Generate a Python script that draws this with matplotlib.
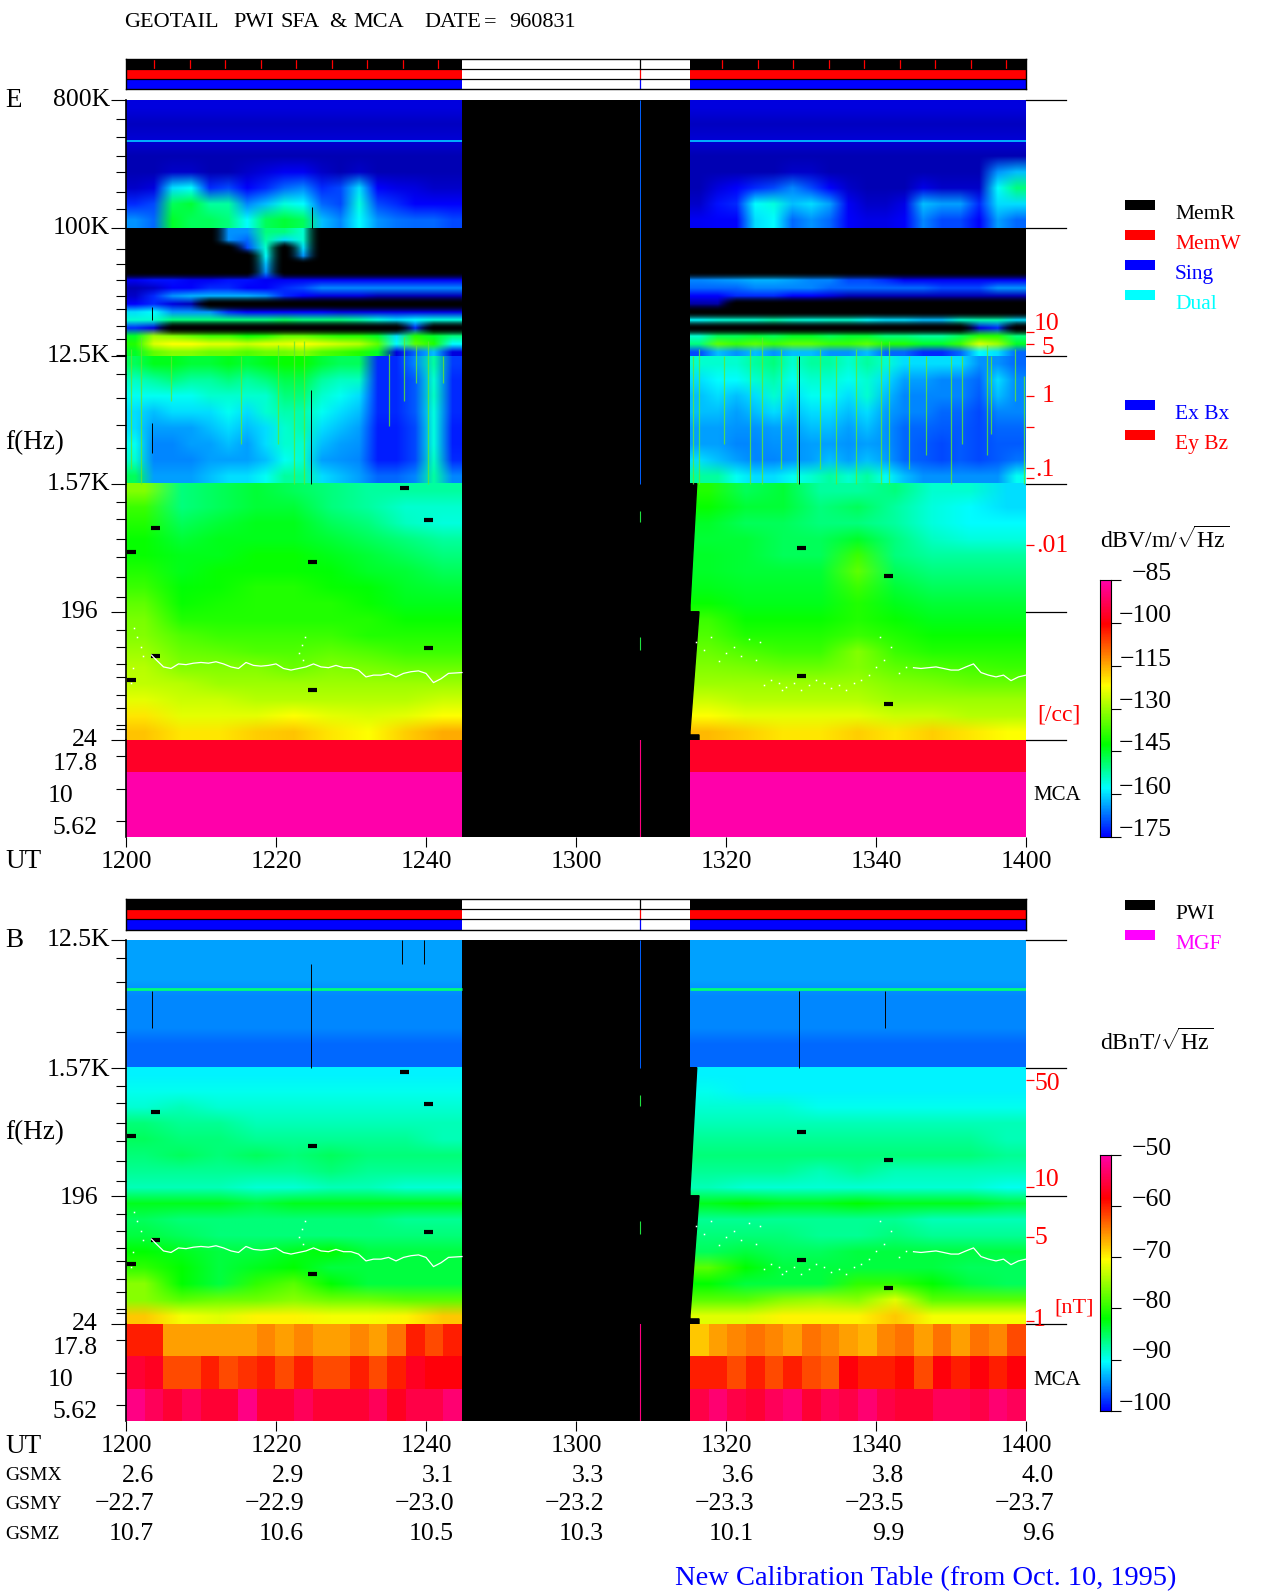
import numpy as np
import matplotlib
matplotlib.use('Agg')
import matplotlib.pyplot as plt
from matplotlib.colors import LinearSegmentedColormap, Normalize
from matplotlib.patches import Rectangle

plt.rcParams['font.family'] = ['Liberation Serif', 'DejaVu Serif']
plt.rcParams['mathtext.fontset'] = 'custom'
plt.rcParams['mathtext.rm'] = 'Liberation Serif'

W, H = 1280, 1593
FS = 19.5

# Band edges in Hz, time in minutes after 1200 UT
band_edges = [800000, 100000, 12500, 1570, 196, 24.4]
left_block = (0, 44.8)
right_block = (75.2, 120)
gap_line_t = 68.5

time_ticks = [0, 20, 40, 60, 80, 100, 120]
time_labels = ['1200', '1220', '1240', '1300', '1320', '1340', '1400']
gsmx = ['2.6', '2.9', '3.1', '3.3', '3.6', '3.8', '4.0']
gsmy = ['-22.7', '-22.9', '-23.0', '-23.2', '-23.3', '-23.5', '-23.7']
gsmz = ['10.7', '10.6', '10.5', '10.3', '10.1', '9.9', '9.6']

# 36 columns (2.5 min): 18 before the gap, 18 after
e_band1 = [
    [178] * 36,
    [181] * 36,
    [179] * 36,
    [182] * 36,
    [182, 182, 180, 180, 182, 182, 180, 178, 176, 176, 180, 182, 180, 182, 182, 182, 182, 182, 182, 182, 182, 182, 182, 180, 180, 182, 182, 182, 182, 182, 182, 182, 182, 182, 165, 162],
    [180, 178, 160, 158, 172, 170, 175, 172, 168, 166, 172, 170, 160, 175, 177, 178, 180, 180, 182, 178, 175, 172, 170, 166, 170, 175, 180, 182, 182, 182, 177, 180, 180, 180, 158, 150],
    [172, 170, 148, 146, 152, 152, 166, 162, 156, 158, 168, 170, 156, 170, 172, 175, 175, 175, 180, 174, 172, 158, 156, 162, 160, 164, 176, 180, 180, 177, 162, 164, 164, 172, 160, 160],
    [165, 168, 145, 148, 148, 150, 158, 148, 146, 148, 162, 166, 158, 165, 167, 168, 168, 170, 176, 175, 175, 160, 158, 168, 165, 168, 175, 177, 177, 175, 166, 170, 170, 175, 164, 168],
]
e_band2 = [
    [0, 0, 0, 0, 0, 165, 165, 150, 150, 155, 0, 0, 0, 0, 0, 0, 0, 0] + [0] * 18,
    [0, 0, 0, 0, 0, 165, 168, 152, 160, 155, 0, 0, 0, 0, 0, 0, 0, 0] + [0] * 18,
    [0, 0, 0, 0, 0, 0, 170, 155, 0, 160, 0, 0, 0, 0, 0, 0, 0, 0] + [0] * 18,
    [0, 0, 0, 0, 0, 0, 0, 158, 0, 165, 0, 0, 0, 0, 0, 0, 0, 0] + [0] * 18,
    [0, 0, 0, 0, 0, 0, 0, 162, 0, 0, 0, 0, 0, 0, 0, 0, 0, 0] + [0] * 18,
    [0, 0, 0, 0, 0, 0, 0, 165, 0, 0, 0, 0, 0, 0, 0, 0, 0, 0] + [0] * 18,
    [176, 174, 174, 176, 176, 174, 174, 176, 176, 176, 176, 176, 176, 176, 176, 176, 176, 176, 166, 165, 164, 163, 163, 164, 166, 166, 170, 170, 172, 176, 176, 176, 176, 176, 176, 176],
    [182, 180, 175, 175, 172, 172, 175, 175, 172, 170, 166, 166, 166, 166, 166, 166, 166, 166, 168, 168, 168, 166, 166, 166, 166, 168, 168, 168, 168, 168, 168, 170, 170, 170, 165, 165],
    [180, 172, 165, 163, 163, 163, 163, 165, 172, 175, 178, 178, 178, 182, 182, 182, 182, 182, 175, 175, 172, 172, 172, 175, 175, 178, 182, 182, 182, 182, 182, 182, 182, 182, 182, 182],
    [175, 172, 178, 182, 0, 0, 0, 0, 0, 0, 0, 0, 0, 0, 0, 0, 0, 0, 184, 184, 0, 0, 0, 0, 0, 0, 0, 0, 0, 0, 0, 0, 0, 0, 0, 0],
    [160, 158, 165, 165, 165, 172, 175, 175, 175, 175, 175, 178, 178, 178, 178, 178, 178, 178, 0, 0, 0, 0, 0, 0, 0, 0, 0, 0, 0, 0, 0, 0, 0, 0, 0, 0],
    [155, 155, 150, 150, 150, 150, 150, 150, 148, 150, 150, 150, 152, 156, 160, 158, 156, 156, 158, 156, 155, 155, 153, 155, 156, 155, 155, 158, 160, 160, 162, 162, 155, 153, 153, 160],
    [172, 178, 0, 0, 0, 0, 0, 0, 0, 0, 0, 0, 0, 0, 0, 172, 0, 0, 0, 0, 0, 0, 0, 0, 0, 0, 0, 0, 0, 0, 0, 0, 0, 178, 172, 0],
    [145, 130, 132, 135, 138, 138, 142, 140, 135, 135, 138, 140, 140, 145, 160, 140, 145, 150, 155, 148, 148, 146, 148, 145, 145, 148, 146, 146, 150, 150, 152, 152, 148, 140, 140, 150],
    [140, 125, 122, 122, 124, 124, 126, 124, 124, 122, 124, 126, 128, 135, 158, 135, 140, 158, 150, 135, 138, 135, 138, 135, 135, 138, 138, 135, 140, 140, 145, 145, 138, 125, 130, 145],
    [145, 135, 132, 132, 134, 134, 136, 134, 134, 132, 136, 138, 140, 145, 178, 168, 162, 178, 170, 162, 165, 162, 165, 162, 162, 165, 165, 162, 168, 168, 172, 172, 168, 158, 160, 168],
]
e_band3 = [
    [148, 144, 144, 146, 146, 144, 146, 144, 142, 142, 146, 148, 148, 172, 172, 166, 152, 171, 155, 155, 155, 152, 150, 155, 152, 152, 155, 152, 155, 160, 160, 160, 160, 165, 165, 168],
    [154, 152, 150, 152, 152, 150, 152, 150, 147, 147, 152, 154, 154, 172, 172, 169, 155, 172, 160, 158, 158, 155, 153, 157, 155, 155, 157, 155, 160, 164, 164, 166, 166, 168, 160, 166],
    [157, 157, 157, 157, 155, 155, 155, 155, 150, 150, 155, 157, 160, 172, 172, 169, 154, 172, 162, 160, 162, 160, 155, 160, 157, 157, 160, 155, 162, 166, 166, 166, 166, 169, 162, 166],
    [160, 162, 160, 160, 160, 157, 160, 155, 153, 153, 157, 160, 162, 172, 172, 169, 156, 172, 162, 162, 164, 162, 160, 162, 160, 160, 162, 160, 164, 166, 166, 168, 168, 170, 166, 166],
    [160, 164, 164, 164, 162, 160, 162, 160, 155, 153, 160, 162, 164, 173, 173, 170, 156, 173, 164, 164, 165, 165, 164, 164, 162, 162, 164, 162, 165, 168, 168, 169, 169, 170, 168, 168],
    [157, 166, 166, 164, 164, 162, 164, 160, 155, 155, 162, 164, 165, 173, 173, 170, 156, 173, 164, 164, 166, 166, 165, 165, 164, 164, 165, 164, 165, 168, 169, 170, 169, 170, 169, 169],
    [155, 166, 166, 166, 164, 164, 164, 162, 157, 155, 164, 165, 166, 173, 173, 170, 154, 172, 160, 162, 164, 166, 166, 165, 164, 162, 164, 162, 164, 168, 169, 170, 169, 170, 169, 167],
    [148, 164, 164, 164, 162, 160, 160, 157, 152, 152, 160, 162, 164, 168, 168, 166, 152, 166, 152, 152, 157, 160, 160, 157, 155, 152, 155, 152, 157, 162, 165, 165, 165, 165, 165, 157],
]
# 1.57K down to 24 Hz, 18 columns (5 min)
e_band45 = [
    [132, 150, 148, 146, 148, 150, 152, 152, 152, 140, 148, 146, 152, 152, 150, 155, 155, 160],
    [138, 150, 148, 146, 146, 150, 152, 155, 155, 142, 146, 146, 150, 148, 152, 156, 158, 160],
    [140, 148, 146, 144, 144, 148, 150, 154, 156, 145, 148, 148, 150, 150, 152, 156, 158, 158],
    [142, 146, 144, 144, 144, 146, 148, 150, 152, 146, 146, 148, 148, 145, 150, 154, 156, 156],
    [142, 144, 144, 142, 142, 144, 146, 148, 150, 145, 146, 148, 148, 138, 150, 152, 152, 152],
    [140, 144, 142, 142, 142, 143, 145, 146, 148, 145, 146, 146, 146, 135, 148, 150, 150, 150],
    [138, 143, 142, 140, 140, 142, 143, 145, 146, 144, 145, 145, 145, 138, 146, 148, 148, 148],
    [135, 142, 141, 140, 140, 140, 142, 144, 144, 142, 144, 144, 144, 140, 144, 146, 146, 146],
    [133, 140, 140, 140, 140, 140, 140, 142, 142, 138, 142, 142, 142, 140, 142, 144, 144, 144],
    [132, 136, 138, 138, 138, 138, 140, 140, 140, 136, 140, 140, 140, 138, 140, 142, 142, 142],
    [130, 134, 135, 136, 136, 135, 136, 138, 138, 134, 136, 138, 138, 132, 138, 140, 140, 140],
    [128, 132, 132, 132, 134, 132, 133, 134, 134, 132, 133, 134, 134, 132, 135, 136, 137, 138],
    [127, 128, 130, 130, 130, 130, 130, 130, 130, 130, 130, 130, 130, 130, 132, 133, 134, 134],
    [124, 126, 126, 128, 128, 128, 128, 128, 126, 126, 128, 128, 128, 128, 130, 130, 130, 130],
    [120, 124, 124, 124, 122, 124, 125, 124, 122, 122, 124, 124, 124, 124, 126, 126, 128, 128],
    [117, 120, 120, 118, 117, 120, 122, 118, 115, 116, 118, 120, 120, 118, 120, 118, 120, 122],
]
e_mca = [[97] * 36, [85] * 36, [85] * 36]

b_band3 = [[94] * 36, [94] * 36, [94] * 36, [95] * 36, [95] * 36, [95] * 36, [96] * 36, [96] * 36]
b_band45 = [
    [91] * 18,
    [90, 90, 90, 90, 90, 90, 90, 90, 90, 90, 91, 91, 91, 91, 91, 91, 91, 91],
    [89, 88, 89, 89, 89, 89, 89, 89, 89, 89, 89, 89, 90, 90, 90, 90, 90, 90],
    [86, 87, 87, 88, 88, 88, 88, 88, 88, 88, 88, 88, 88, 88, 88, 88, 88, 88],
    [85, 86, 86, 87, 87, 87, 87, 87, 88, 87, 87, 87, 87, 87, 87, 87, 87, 88],
    [86, 85, 86, 85, 86, 85, 86, 86, 86, 86, 86, 86, 86, 86, 86, 86, 86, 87],
    [87, 87, 87, 87, 87, 86, 87, 87, 87, 87, 87, 87, 88, 87, 88, 88, 88, 88],
    [88, 88, 88, 89, 89, 88, 88, 89, 89, 88, 89, 89, 89, 89, 89, 89, 89, 90],
    [83, 83, 83, 84, 83, 83, 83, 83, 83, 83, 82, 83, 83, 82, 83, 83, 83, 84],
    [85, 86, 86, 86, 86, 86, 86, 87, 87, 87, 87, 87, 87, 87, 87, 88, 88, 88],
    [84, 85, 86, 86, 86, 86, 86, 86, 86, 86, 86, 86, 87, 87, 86, 87, 87, 87],
    [82, 83, 84, 84, 83, 82, 84, 84, 84, 85, 84, 85, 85, 84, 84, 84, 84, 84],
    [80, 82, 84, 83, 82, 84, 84, 84, 84, 78, 82, 84, 84, 84, 84, 84, 85, 85],
    [76, 82, 84, 80, 78, 82, 84, 84, 84, 82, 84, 84, 84, 80, 80, 82, 84, 85],
    [76, 78, 77, 77, 76, 77, 77, 78, 78, 78, 78, 76, 75, 76, 72, 78, 78, 78],
    [68, 71, 72, 70, 70, 71, 71, 70, 68, 72, 72, 70, 70, 70, 68, 71, 71, 71],
]
b_mca = [
    [60, 60, 66, 66, 66, 66, 66, 65, 66, 65, 66, 66, 65, 66, 64, 60, 62, 60, 68, 66, 65, 64, 65, 66, 64, 65, 66, 67, 65, 64, 66, 64, 66, 64, 65, 62],
    [56, 57, 62, 62, 60, 62, 61, 60, 62, 60, 62, 62, 60, 62, 60, 57, 58, 58, 60, 60, 62, 60, 62, 60, 62, 63, 58, 60, 60, 59, 62, 58, 60, 58, 60, 58],
    [52, 54, 56, 54, 56, 56, 52, 56, 56, 54, 56, 56, 56, 54, 57, 55, 55, 53, 55, 53, 55, 56, 54, 53, 56, 54, 55, 53, 55, 56, 56, 54, 54, 55, 53, 54],
]

# Plasma line (white), same in both panels
fp_left_t = [3.4, 4, 5, 6, 7, 8, 9, 10, 11, 12, 13, 14, 15, 16, 17, 18, 19, 20, 21, 22, 24, 25, 26, 27, 28, 29, 30, 31, 32, 33, 34, 35, 36, 37, 38, 39, 40, 41, 42, 43, 44.8]
fp_left_f = [97, 90, 80, 78, 84, 83, 85, 86, 85, 87, 84, 80, 78, 86, 82, 81, 82, 84, 78, 76, 80, 84, 80, 79, 82, 79, 79, 76, 68, 70, 70, 72, 68, 72, 74, 75, 72, 62, 66, 72, 73]
fp_right_t = [105, 106, 107, 108, 109, 110, 111, 112, 113, 114, 115, 116, 117, 118, 119, 120]
fp_right_f = [79, 78, 79, 80, 78, 76, 76, 80, 84, 73, 70, 68, 70, 64, 68, 70]
fp_dots_t = [1, 1.5, 2, 2.2, 0.6, 0.9, 23, 23.5, 23.6, 23.8, 76, 77, 78, 79, 80, 81, 82, 83, 84, 84.5, 85, 86, 87, 87.5, 88, 89, 90, 91, 92, 93, 94, 95, 96, 97, 98, 99, 100, 100.5, 101, 102, 103, 104]
fp_dots_f = [150, 130, 110, 95, 62, 78, 100, 115, 90, 130, 120, 105, 130, 88, 100, 110, 95, 125, 90, 120, 60, 65, 62, 55, 58, 62, 55, 60, 65, 62, 57, 60, 55, 62, 65, 70, 80, 130, 90, 110, 72, 80]

# No-data cells
drop_t = [37.1, 40.3, 3.9, 0.7, 24.9, 40.3, 3.9, 0.7, 24.9, 90.1, 101.7, 90.1, 101.7]
drop_f = [1463, 871, 764, 517, 440, 109, 95, 64.7, 55, 552, 350, 69, 43.8]

# Edge of the data gap below 1.57K
gap_edge_t = [75, 76.1, 75.2, 75.2, 76.4, 75.2, 75.2, 76.4, 76.4, 75]
gap_edge_f = [1570, 1570, 218, 196, 196, 28, 26.5, 26.5, 24.4, 24.4]

# Bursts in the E panel 12.5K-1.57K band
burst_t = [0.6, 2, 6, 15.3, 20.2, 22.4, 23.7, 35, 37.1, 38.7, 40.3, 42.3,
           75.6, 76.4, 79.7, 83.2, 84.8, 87.3, 89.5, 92.5, 94.7, 97.3, 100.7, 101.7, 104.4, 106.7, 110, 111.5, 114.8, 115.3, 118.5, 119.7]
burst_top = [14000, 17000, 12500, 12500, 15000, 16000, 16000, 13000, 17000, 15000, 16000, 12500,
             12500, 14000, 12500, 14000, 17000, 14000, 12500, 14000, 12500, 14000, 16000, 16000, 12500, 12500, 12500, 12500, 15000, 12500, 14000, 9000]
burst_bot = [2000, 1570, 6000, 3000, 3000, 1570, 1570, 4000, 6000, 8000, 1570, 8000,
             1570, 1570, 3000, 1570, 1570, 2000, 1570, 2000, 1570, 1570, 1570, 1570, 2000, 2500, 1570, 3000, 2500, 3500, 6000, 1570]

# Thin black no-data lines
e_black_t = [24.6, 24.8, 3.5, 3.5, 89.7]
e_black_top = [7170, 140000, 27600, 4200, 12500]
e_black_bot = [1570, 100000, 22400, 2570, 1570]
b_black_t = [36.8, 39.7, 3.5, 24.6, 89.7, 101.2]
b_black_top = [12500, 12500, 5500, 8500, 5500, 5500]
b_black_bot = [8400, 8400, 3000, 1570, 1570, 3000]

# Lone spectrum inside the gap, below 1.57K
gap_dash_top = [1000, 130]
gap_dash_bot = [840, 105]

# Status bar marks
status_ticks = [3.7, 8.5, 13.2, 18, 22.7, 27.5, 32.1, 36.9, 41.6, 79.5, 84.3, 88.9, 93.7, 98.4, 103.2, 107.9, 112.6, 117.3]

# Frequency ticks, Hz
major_f = [800000, 100000, 12500, 1570, 196, 24.4]
minor_f = [588000, 438000, 322000, 248000, 179000, 136000,
           71000, 56000, 42800, 33000, 27000, 20300, 16400, 12800,
           9400, 6300, 4100, 2800,
           1170, 880, 640, 475, 345, 250,
           145, 111, 84, 68, 51, 41, 31, 29]

e_levels = [-85, -100, -115, -130, -145, -160, -175]
b_levels = [-50, -60, -70, -80, -90, -100]


def make_cmap(lo, hi, floor):
    # dark floor stands for the black speckle under the lowest level
    span = hi - lo
    anchors = [floor, lo, lo + .19 * span, lo + .36 * span, lo + .59 * span, lo + .83 * span, hi]
    cols = ['#000050', '#0000ff', '#00ffff', '#00ff00', '#ffff00', '#ff0000', '#ff00aa']
    pos = [(a - floor) / (hi - floor) for a in anchors]
    return LinearSegmentedColormap.from_list('pwi', list(zip(pos, cols))), Normalize(floor, hi)


def place(x0, y0, x1, y1):
    return fig.add_axes([x0 / W, 1 - y1 / H, (x1 - x0) / W, (y1 - y0) / H])


def show_band(ax, rows, f_lo, f_hi, cmap, norm, interp='bilinear'):
    arr = np.array(rows, dtype=float)
    arr = np.where(arr == 0, np.nan, -arr)
    n = arr.shape[1] // 2
    for block, part in ((left_block, arr[:, :n]), (right_block, arr[:, n:])):
        ax.imshow(part, extent=[block[0], block[1], np.log10(f_lo), np.log10(f_hi)],
                  aspect='auto', origin='upper', cmap=cmap, norm=norm,
                  interpolation=interp, interpolation_stage='rgba', zorder=1)


def spectrogram(y0, y1, y_bottom, bands, mca, cmap, norm, black):
    ax = place(126, y0, 1026, y1)
    ax.set_facecolor('k')
    for rows, lo, hi in bands:
        show_band(ax, rows, lo, hi, cmap, norm)
    ax.fill(gap_edge_t, np.log10(gap_edge_f), color='k', zorder=2)
    ax.hlines(np.log10(drop_f), np.array(drop_t) - .6, np.array(drop_t) + .6, color='k', lw=3, zorder=3)
    ax.vlines(black[0], np.log10(black[2]), np.log10(black[1]), color='k', lw=.7, zorder=3)
    # the single spectrum inside the gap
    top = bands[0][2]
    ax.vlines(gap_line_t, np.log10(1570), np.log10(top), color='#0060ff', lw=.7, zorder=2)
    ax.vlines([gap_line_t] * 2, np.log10(gap_dash_bot), np.log10(gap_dash_top), color='#20e040', lw=.8, zorder=2)
    ax.plot(fp_left_t, np.log10(fp_left_f), color='w', lw=.9, zorder=4)
    ax.plot(fp_right_t, np.log10(fp_right_f), color='w', lw=.9, zorder=4)
    ax.plot(fp_dots_t, np.log10(fp_dots_f), ls='none', marker='s', ms=1.1, mew=0, color='w', zorder=4)
    ax.set_xlim(0, 120)
    ax.set_ylim(np.log10(24.4), np.log10(top))
    ax.set_xticks([])
    for s in ('top', 'right', 'bottom'):
        ax.spines[s].set_visible(False)
    ax.spines['left'].set_linewidth(1.2)
    ax.set_yticks([np.log10(f) for f in major_f if f <= top])
    ax.set_yticks([np.log10(f) for f in minor_f if f < top], minor=True)
    ax.tick_params(axis='y', which='major', length=11, width=.8, labelleft=False)
    ax.tick_params(axis='y', which='minor', length=7.2, width=.8)
    for f in major_f:
        if f <= top:
            ax.plot([120, 125.35], [np.log10(f)] * 2, color='k', lw=.9, clip_on=False, zorder=5)

    am = place(126, y1, 1026, y_bottom)
    am.set_facecolor('k')
    arr = -np.array(mca, dtype=float)
    n = arr.shape[1] // 2
    for block, part in ((left_block, arr[:, :n]), (right_block, arr[:, n:])):
        am.imshow(part, extent=[block[0], block[1], 3, 0], aspect='auto', cmap=cmap, norm=norm,
                  interpolation='nearest')
    am.plot([gap_line_t, gap_line_t], [0, 3], color='#ff0080', lw=.8)
    am.set_xlim(0, 120)
    am.set_ylim(3, 0)
    am.set_xticks(time_ticks)
    am.set_xticklabels([])
    am.set_yticks([.5, 1.5, 2.5])
    am.set_yticklabels([])
    am.tick_params(axis='x', length=7.2, width=.8)
    am.tick_params(axis='y', length=7.2, width=.8)
    for s in ('top', 'right', 'bottom'):
        am.spines[s].set_visible(False)
    am.spines['left'].set_linewidth(1.2)
    return ax


def status_bar(y0, y1, ticks):
    ax = place(126, y0, 1026, y1)
    for row, col in enumerate(['k', '#ff0000', '#0000ff']):
        for block in (left_block, right_block):
            ax.barh(row, block[1] - block[0], left=block[0], height=1, color=col, lw=0)
        ax.plot([gap_line_t, gap_line_t], [row - .5, row + .5], color=col, lw=.9)
    ax.vlines(ticks, -.5, .5, color='#ff0000', lw=.9)
    ax.hlines([.5, 1.5], 0, 120, color='k', lw=.9)
    ax.set_xlim(0, 120)
    ax.set_ylim(2.5, -.5)
    ax.set_xticks([])
    ax.set_yticks([])
    for s in ax.spines.values():
        s.set_linewidth(1)


def colorbar(y0, y1, levels, cmap, norm):
    ax = place(1100, y0, 1111, y1)
    ax.imshow(np.linspace(levels[0], levels[-1], 300)[:, None], aspect='auto',
              extent=[0, 1, levels[-1], levels[0]], cmap=cmap, norm=norm)
    ax.set_xticks([])
    ax.yaxis.tick_right()
    ax.set_yticks(levels)
    ax.set_yticklabels([])
    ax.tick_params(axis='y', length=7.2, width=.8)


fig = plt.figure(figsize=(W / 100, H / 100), dpi=100, facecolor='w')

cm_e, nm_e = make_cmap(-175, -85, -192)
cm_b, nm_b = make_cmap(-100, -50, -110)

status_bar(59, 89, status_ticks)
status_bar(899, 929.5, [])

ax_e = spectrogram(100, 740, 837,
                   [(e_band1, band_edges[1], band_edges[0]),
                    (e_band2, band_edges[2], band_edges[1]),
                    (e_band3, band_edges[3], band_edges[2]),
                    (e_band45, band_edges[5], band_edges[3])],
                   e_mca, cm_e, nm_e, (e_black_t, e_black_top, e_black_bot))
ax_e.hlines([np.log10(411000)] * 2, [left_block[0], right_block[0]], [left_block[1], right_block[1]],
            color=cm_e(nm_e(-163)), lw=1.4, zorder=2)
ax_e.vlines(burst_t, np.log10(burst_bot), np.log10(burst_top), color='#60e830', lw=.9, alpha=.8, zorder=2)

ax_b = spectrogram(940, 1324, 1421,
                   [(b_band3, band_edges[3], band_edges[2]),
                    (b_band45, band_edges[5], band_edges[3])],
                   b_mca, cm_b, nm_b, (b_black_t, b_black_top, b_black_bot))
ax_b.hlines([np.log10(5640)] * 2, [left_block[0], right_block[0]], [left_block[1], right_block[1]],
            color=cm_b(nm_b(-86)), lw=2, zorder=2)

colorbar(580, 837, e_levels, cm_e, nm_e)
colorbar(1154.6, 1411, b_levels, cm_b, nm_b)

# Everything else sits on a pixel-scaled overlay
ov = fig.add_axes([0, 0, 1, 1], zorder=10)
ov.set_xlim(0, W)
ov.set_ylim(H, 0)
ov.axis('off')
ov.patch.set_alpha(0)


def txt(x, y, s, ha='left', color='k', size=FS):
    ov.text(x, y + 2.5, s, ha=ha, va='center', color=color, fontsize=size)


for x, s in zip([124, 233, 280, 329, 353, 424, 484, 509], ['GEOTAIL', 'PWI', 'SFA', '&', 'MCA', 'DATE', '=', '960831']):
    txt(x, 20, s, size=16)

txt(5, 98, 'E')
txt(5, 440, 'f(Hz)')
for s, x, y in [('800K', 110, 98), ('100K', 110, 226), ('12.5K', 110, 354), ('1.57K', 110, 482), ('196', 98, 610),
                ('24', 98, 738), ('17.8', 98, 762), ('10', 73.5, 793), ('5.62', 98, 826)]:
    txt(x, y, s, ha='right', size=18.5)
txt(5, 859, 'UT')
txt(5, 938, 'B')
txt(5, 1130, 'f(Hz)')
for s, x, y in [('12.5K', 110, 938), ('1.57K', 110, 1067), ('196', 98, 1195), ('24', 98, 1322), ('17.8', 98, 1346),
                ('10', 73.5, 1378), ('5.62', 98, 1410)]:
    txt(x, y, s, ha='right', size=18.5)

for t, s in zip(time_ticks, time_labels):
    xp = 126 + 7.5 * t
    txt(xp, 859, s, ha='center', size=18.5)
    txt(xp, 1444, s, ha='center', size=18.5)
for name, vals, y in (('GSMX', gsmx, 1473), ('GSMY', gsmy, 1502), ('GSMZ', gsmz, 1532)):
    txt(5, y, name, size=14)
    for t, s in zip(time_ticks, vals):
        txt(126 + 7.5 * t + 28, y, s.replace('-', '\u2212'), ha='right', size=18.5)
txt(5, 1444, 'UT')

# Red density / field scales
for ys in ([332, 344, 396, 427, 468, 478, 545], [1080, 1187, 1237, 1320.5]):
    ov.hlines(ys, 1026, 1034, color='#ff0000', lw=.9)
for s, x, y in [('10', 1047, 322), ('5', 1048, 345), ('1', 1048, 394), ('.1', 1045, 467), ('.01', 1052, 543),
                ('50', 1047, 1081), ('10', 1047, 1177), ('5', 1041, 1235), ('1', 1039, 1318)]:
    txt(x, y, s, ha='center', color='#ff0000', size=18.5)
txt(1059, 713, '[/cc]', ha='center', color='#ff0000', size=17)
txt(1074, 1305, '[nT]', ha='center', color='#ff0000', size=16)
txt(1057, 793, 'MCA', ha='center', size=15)
txt(1057, 1378, 'MCA', ha='center', size=15)

# Legend swatches
legend_names = ['MemR', 'MemW', 'Sing', 'Dual', 'Ex Bx', 'Ey Bz', 'PWI', 'MGF']
legend_cols = ['k', '#ff0000', '#0000ff', '#00ffff', '#0000ff', '#ff0000', 'k', '#ff00ff']
legend_y = [200, 230, 260, 290, 400, 430, 900, 930]
for s, c, y in zip(legend_names, legend_cols, legend_y):
    ov.add_patch(Rectangle((1125, y), 30, 10, color=c, lw=0))
    txt(1175, y + 12, s, color=c, size=15.5)

txt(1100, 537, r'dBV/m/$\sqrt{\mathrm{Hz}}$', size=17)
txt(1100, 1039, r'dBnT/$\sqrt{\mathrm{Hz}}$', size=17)

for lv, y in zip(e_levels, [572, 614, 658, 700, 742, 786, 828]):
    txt(1172, y, str(lv).replace('-', '\u2212'), ha='right', size=18.5)
for lv, y in zip(b_levels, [1146.5, 1198, 1249, 1300, 1350, 1402]):
    txt(1172, y, str(lv).replace('-', '\u2212'), ha='right', size=18.5)

txt(675, 1576, 'New Calibration Table (from Oct. 10, 1995)', color='#0000ff', size=20.5)

fig.savefig('out.png', dpi=100)
